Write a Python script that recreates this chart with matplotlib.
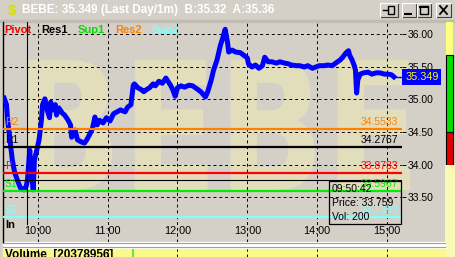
import numpy as np
import matplotlib.pyplot as plt
from matplotlib.patches import Rectangle, PathPatch
from matplotlib.textpath import TextPath
from matplotlib.transforms import Affine2D
from matplotlib.font_manager import FontProperties
from matplotlib.ticker import FormatStrFormatter

plt.rcParams['font.family'] = ['Liberation Sans', 'DejaVu Sans']

symbol = "BEBE"
last_price = 35.349
bid = 35.32
ask = 35.36
volume_total = 20378956

# minutes after the 9:30 open, and the 1-minute price
open_min = 570
mins = [1, 3, 4, 6, 8, 10, 13, 15, 18, 20, 21, 23, 24, 26, 27, 29, 31, 33, 34, 36,
        38, 40, 41, 43, 45, 46, 48, 51, 53, 56, 58, 59, 62, 64, 67, 70, 72, 75, 77, 79,
        81, 83, 86, 89, 92, 95, 98, 101, 105, 107, 110, 112, 113, 116, 119, 121, 124, 126, 129, 131,
        134, 137, 140, 144, 146, 148, 150, 153, 156, 160, 163, 167, 170, 174, 176, 179, 181, 184, 186, 187,
        189, 191, 193, 194, 197, 200, 204, 207, 210, 211, 214, 217, 220, 223, 225, 228, 231, 235, 238, 242,
        245, 248, 252, 255, 259, 262, 266, 269, 272, 276, 279, 283, 286, 290, 292, 295, 297, 298, 300, 302,
        303, 304, 305, 307, 310, 314, 317, 321, 324, 328, 331, 334, 336]
prices = [35.02, 34.92, 34.68, 34.38, 34.07, 33.88, 33.73, 33.64, 33.61, 33.67, 33.76, 34.22, 33.92, 33.61, 34.07, 34.22, 34.38, 34.68, 34.92, 35.01,
          34.84, 34.72, 34.96, 34.84, 34.92, 34.76, 34.87, 34.79, 34.76, 34.68, 34.61, 34.42, 34.53, 34.38, 34.35, 34.33, 34.38, 34.48, 34.56, 34.73,
          34.61, 34.68, 34.64, 34.72, 34.67, 34.78, 34.81, 34.84, 34.81, 34.88, 34.92, 35.22, 35.24, 35.18, 35.15, 35.12, 35.16, 35.18, 35.24, 35.21,
          35.28, 35.25, 35.33, 35.22, 35.15, 35.05, 35.18, 35.21, 35.19, 35.22, 35.21, 35.16, 35.12, 35.04, 35.12, 35.30, 35.45, 35.61, 35.76, 35.84,
          35.95, 36.08, 35.88, 35.73, 35.76, 35.73, 35.72, 35.68, 35.64, 35.55, 35.50, 35.53, 35.48, 35.52, 35.65, 35.58, 35.58, 35.56, 35.58, 35.56,
          35.55, 35.53, 35.52, 35.52, 35.50, 35.52, 35.48, 35.50, 35.52, 35.52, 35.53, 35.52, 35.56, 35.61, 35.65, 35.72, 35.75, 35.68, 35.61, 35.52,
          35.45, 35.10, 35.30, 35.39, 35.41, 35.42, 35.39, 35.41, 35.41, 35.39, 35.39, 35.38, 35.349]

pivot_names = ["R2", "R1", "P", "S1", "S2"]
pivot_values = [34.5533, 34.2767, 33.8733, 33.5967, 33.1933]
pivot_colors = ["#ff8000", "#000000", "#ff0000", "#00ee00", "#80ffff"]

legend_names = ["Pivot", "Res1", "Sup1", "Res2", "Sup2"]
legend_colors = ["#ff0000", "#000000", "#00e000", "#ff8000", "#80ffff"]

price_ticks = [33.50, 34.00, 34.50, 35.00, 35.50, 36.00]
hour_ticks = [600, 660, 720, 780, 840, 900]
hour_labels = ["10:00", "11:00", "12:00", "13:00", "14:00", "15:00"]

cursor_time = 590.7   # 09:50:42
cursor_label = "09:50:42"
cursor_price = 33.759
cursor_vol = 200
volume_spike_time = 682

times = [open_min + m for m in mins]

W, H = 455, 257
fig = plt.figure(figsize=(W / 100, H / 100), dpi=100)


def box(x0, y0, x1, y1):
    return [x0 / W, 1 - y1 / H, (x1 - x0) / W, (y1 - y0) / H]


# ---- window background, pixel coordinates
bg = fig.add_axes([0, 0, 1, 1], zorder=0)
bg.axis('off')
bg.add_patch(Rectangle((0, 0), W, H, color='#d4d0c8'))

top = np.array([197, 198, 190]) / 255
bot = np.array([252, 248, 120]) / 255
g = np.linspace(0, 1, 200)[:, None, None]
bg.imshow(top + (bot - top) * g, extent=[3, W, 242, 22], aspect='auto', interpolation='bilinear')

# big faint ticker watermark
fp = FontProperties(family='DejaVu Sans', weight='bold')
tp = TextPath((0, 0), symbol, size=150, prop=fp)
tp = Affine2D().scale(0.935, -1.19).translate(15, 190).transform_path(tp)
bg.add_patch(PathPatch(tp, fc='#f8f4a8', ec='none', alpha=0.4))

# title bar
tg = np.linspace(0, 1, 200)[None, :, None]
c0 = np.array([10, 36, 106]) / 255
c1 = np.array([166, 202, 240]) / 255
bg.imshow(c0 + (c1 - c0) * tg, extent=[0, W, 20, 0], aspect='auto', interpolation='bilinear')
bg.text(12, 10.5, "$", color='#d8e000', fontsize=11, fontweight='bold', ha='center', va='center')
bg.text(22, 10.5, f"{symbol}: {last_price:.3f} (Last Day/1m)  B:{bid:.2f}  A:{ask:.2f}",
        color='white', fontsize=8.5, fontweight='bold', ha='left', va='center')


def button(x0, x1):
    bg.add_patch(Rectangle((x0, 3), x1 - x0, 14, fc='#d4d0c8', ec='none'))
    bg.plot([x0, x1, x1], [17, 17, 3], color='#404040', lw=0.8)
    bg.plot([x0, x0, x1], [17, 3, 3], color='white', lw=0.8)


for a, b in [(380, 398), (402, 416), (417, 431), (436, 451)]:
    button(a, b)
bg.plot([383, 388], [10, 10], color='black', lw=1)
bg.add_patch(Rectangle((388, 6), 6, 8, fc='none', ec='black', lw=1))
bg.plot([405, 411], [14, 14], color='black', lw=1.5)
bg.add_patch(Rectangle((420, 6), 8, 8, fc='none', ec='black', lw=1))
bg.plot([420, 428], [6.5, 6.5], color='black', lw=1.5)
bg.plot([440, 447], [6, 14], color='black', lw=1.3)
bg.plot([440, 447], [14, 6], color='black', lw=1.3)

# tab strip below the title
bg.add_patch(Rectangle((0, 20), W, 2, color='#c0bcb4'))

# right side indicator strip
bg.add_patch(Rectangle((446, 22), 7, 33, fc='#ffff80', ec='none'))
bg.add_patch(Rectangle((446, 55), 7, 77, fc='#00e000', ec='black', lw=0.8))
bg.add_patch(Rectangle((446, 132), 7, 33, fc='#e00000', ec='black', lw=0.8))
bg.add_patch(Rectangle((445, 165), 10, 92, fc='#fafab4', ec='none'))

# separator and volume pane
bg.add_patch(Rectangle((3, 242), 442, 7, color='white'))
bg.plot([3, 445], [243, 243], color='#a0a0a0', lw=0.8)
bg.plot([3, 445], [247, 247], color='#a0a0a0', lw=0.8)
bg.add_patch(Rectangle((3, 249), 442, 8, color='#fafa8c'))

# legend of pivot series
lx = 4
for name, col in zip(legend_names, legend_colors):
    bg.text(lx, 30, name, color=col, fontsize=8, fontweight='bold', ha='left', va='center')
    lx += 37
bg.text(5, 249, f"Volume  [{volume_total}]", fontsize=8.5, fontweight='bold', ha='left', va='top')
bg.set_xlim(0, W)
bg.set_ylim(H, 0)

# ---- price chart
ax = fig.add_axes(box(3, 22, 402, 242), zorder=1)
ax.patch.set_visible(False)
ax.set_xlim(570, 913)
ax.set_ylim(32.808, 36.192)
ax.set_xticks(hour_ticks)
ax.set_yticks(price_ticks)
ax.yaxis.set_major_formatter(FormatStrFormatter('%.2f'))
ax.grid(True, color='black', linestyle=(0, (3, 3)), linewidth=0.7)
ax.set_axisbelow(True)
ax.tick_params(axis='x', length=0, labelbottom=False)
ax.tick_params(axis='y', left=False, labelleft=False, right=True, labelright=True,
               length=3, width=0.7, pad=1, labelsize=7.5)
for s in ['top', 'right', 'bottom']:
    ax.spines[s].set_visible(False)
ax.spines['left'].set_color('black')
ax.spines['left'].set_linewidth(1)

ax.plot(times, prices, color='#0000ff', lw=3.6, zorder=3, solid_joinstyle='round')

ytr = ax.get_yaxis_transform()
for name, val, col in zip(pivot_names, pivot_values, pivot_colors):
    ax.axhline(val, color=col, lw=1.6, zorder=4)
    ax.annotate(name, xy=(0.005, val), xycoords=ytr, xytext=(0, 1.2), textcoords='offset points',
                ha='left', va='bottom', color=col, fontsize=7.5, zorder=5)
    ax.annotate(f"{val:.4f}", xy=(0.99, val), xycoords=ytr, xytext=(0, 1.2), textcoords='offset points',
                ha='right', va='bottom', color=col, fontsize=7.5, zorder=5)

ax.axhline(cursor_price, color='black', lw=0.8, zorder=4)
ax.axvline(cursor_time, ymin=0.08, color='black', lw=0.8, zorder=4)
ax.text(0.005, 0.075, "In", transform=ax.transAxes, fontsize=8, fontweight='bold', ha='left', va='center')

xtr = ax.get_xaxis_transform()
for t, lab in zip(hour_ticks, hour_labels):
    ax.text(t, 0.048, lab, transform=xtr, ha='center', va='center', fontsize=7.8)

ax.plot([0.985, 1.0], [last_price, last_price], transform=ytr, color='#0000ff', lw=1, clip_on=False, zorder=5)
ax.text(1.008, last_price, f"{last_price:.3f}", transform=ytr, ha='left', va='center', color='#ffff00',
        fontsize=7.8, clip_on=False, zorder=6,
        bbox=dict(boxstyle='square,pad=0.25', fc='#0000ff', ec='none'))

# ---- volume pane (only its top edge is visible)
vol = fig.add_axes(box(3, 249, 402, 257), zorder=1, sharex=ax)
vol.patch.set_visible(False)
vol.set_ylim(0, 1)
vol.grid(True, axis='x', color='black', linestyle=(0, (3, 3)), linewidth=0.7)
vol.tick_params(length=0, labelbottom=False, labelleft=False)
for s in vol.spines.values():
    s.set_visible(False)
vol.axvline(volume_spike_time, color='#40e040', lw=1.2)
vol.axvline(cursor_time, color='black', lw=0.8)

# ---- cursor tooltip
ui = fig.add_axes([0, 0, 1, 1], zorder=5)
ui.axis('off')
ui.set_xlim(0, W)
ui.set_ylim(H, 0)
ui.add_patch(Rectangle((329, 181), 72, 43, fc='none', ec='black', lw=0.9))
ui.text(332, 188.5, cursor_label, fontsize=7.5, ha='left', va='center')
ui.text(332, 202.5, f"Price: {cursor_price:.3f}", fontsize=7.5, ha='left', va='center')
ui.text(332, 216.5, f"Vol: {cursor_vol}", fontsize=7.5, ha='left', va='center')

fig.savefig('out.png', dpi=100)
